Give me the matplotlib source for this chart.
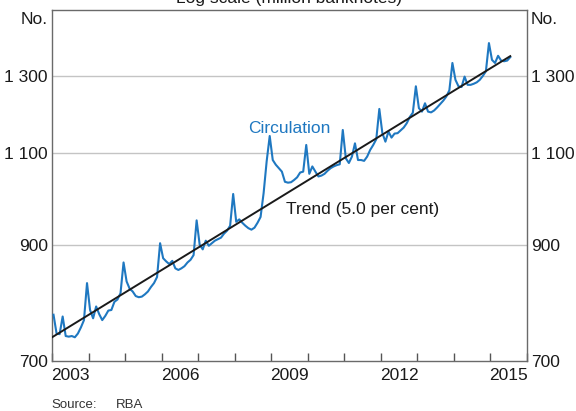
import numpy as np
import matplotlib
matplotlib.use("Agg")
import matplotlib.pyplot as plt
from matplotlib.ticker import FixedLocator, NullLocator, FixedFormatter

plt.rcParams['font.family'] = ['Liberation Sans', 'DejaVu Sans']

# ---- data (million banknotes, monthly from Jan 2003) ----
start_year = 2003
circulation = [
    # 2003
    774, 743, 742, 771, 739, 738, 739, 737, 743, 753, 765, 829,
    # 2004
    782, 768, 788, 775, 765, 772, 781, 782, 796, 800, 811, 867,
    # 2005
    832, 819, 814, 806, 804, 805, 809, 814, 822, 829, 840, 904,
    # 2006
    875, 869, 864, 870, 856, 853, 856, 860, 867, 872, 881, 950,
    # 2007
    901, 892, 909, 899, 904, 909, 912, 915, 923, 929, 939, 1006,
    # 2008
    947, 952, 945, 939, 934, 931, 935, 945, 957, 1008, 1080, 1141,
    # 2009
    1083, 1072, 1064, 1056, 1033, 1031, 1032, 1037, 1043, 1054, 1056, 1119,
    # 2010
    1051, 1068, 1056, 1045, 1047, 1051, 1058, 1064, 1068, 1071, 1073, 1156,
    # 2011
    1087, 1076, 1091, 1123, 1083, 1083, 1081, 1091, 1107, 1119, 1133, 1210,
    # 2012
    1148, 1127, 1152, 1137, 1147, 1148, 1155, 1162, 1173, 1189, 1200, 1271,
    # 2013
    1212, 1203, 1225, 1203, 1201, 1206, 1214, 1223, 1232, 1243, 1260, 1337,
    # 2014
    1289, 1271, 1269, 1298, 1275, 1275, 1278, 1282, 1289, 1300, 1313, 1396,
    # 2015
    1346, 1337, 1358, 1344, 1342, 1344, 1354,
]
trend_start_value = 737
trend_end_value = 1357
trend_label = "Trend (5.0 per cent)"
series_label = "Circulation"

y_ticks = [700, 900, 1100, 1300]
y_tick_labels = ["700", "900", "1 100", "1 300"]
x_label_years = [2003, 2006, 2009, 2012, 2015]
x_min, x_max = 2003, 2016
y_min, y_max = 700, 1500

# ---- derived ----
n = len(circulation)
t = start_year + (np.arange(n) + 0.5) / 12.0

BLUE = '#1f78c1'
FS = 12.5

fig = plt.figure(figsize=(5.76, 4.11), dpi=100)
W, H = 576, 411
ax = fig.add_axes([52 / W, 1 - 361 / H, 475 / W, 351 / H])

ax.set_yscale('log')
ax.set_ylim(y_min, y_max)
ax.set_xlim(x_min, x_max)

# gridlines
for v in y_ticks[1:]:
    ax.axhline(v, color='#c4c4c4', lw=1.0, zorder=1)

ax.plot(t, circulation, color=BLUE, lw=1.5, zorder=3, solid_joinstyle='round')
ax.plot([t[0] - 0.04, t[-1]], [trend_start_value, trend_end_value], color='#1a1a1a', lw=1.4, zorder=4)

ax.text(2009.5, 1160, series_label, color=BLUE, fontsize=FS, ha='center', va='center')
ax.text(2011.5, 973, trend_label, color='#1a1a1a', fontsize=FS, ha='center', va='center')

# y axis
ax.yaxis.set_major_locator(FixedLocator(y_ticks))
ax.yaxis.set_major_formatter(FixedFormatter(y_tick_labels))
ax.yaxis.set_minor_locator(NullLocator())
ax.tick_params(axis='y', which='both', length=0, labelleft=True, labelright=True,
               pad=3, labelsize=FS, colors='#1a1a1a')

# x axis: ticks at year boundaries, labels centred in the year
ax.xaxis.set_major_locator(FixedLocator(np.arange(x_min, x_max + 1)))
ax.xaxis.set_major_formatter(FixedFormatter([''] * (x_max - x_min + 1)))
ax.xaxis.set_minor_locator(FixedLocator([y + 0.5 for y in x_label_years]))
ax.xaxis.set_minor_formatter(FixedFormatter([str(y) for y in x_label_years]))
ax.tick_params(axis='x', which='major', direction='in', length=6, width=1, color='#555555')
ax.tick_params(axis='x', which='minor', length=0, pad=5, labelsize=FS, labelcolor='#1a1a1a')

for s in ax.spines.values():
    s.set_color('#6a6a6a')
    s.set_linewidth(1.0)

fig.text(48 / W, 1 - 20 / H, "No.", ha='right', va='center', fontsize=FS, color='#1a1a1a')
fig.text(531 / W, 1 - 20 / H, "No.", ha='left', va='center', fontsize=FS, color='#1a1a1a')
fig.text(289.5 / W, 1 - 3 / H, "Log scale (million banknotes)", ha='center', va='baseline',
         fontsize=FS, color='#1a1a1a')
fig.text(51 / W, 1 - 405 / H, "Source:", ha='left', va='center', fontsize=9.5, color='#333333')
fig.text(116 / W, 1 - 405 / H, "RBA", ha='left', va='center', fontsize=9.5, color='#333333')

fig.savefig("out.png", dpi=100)
